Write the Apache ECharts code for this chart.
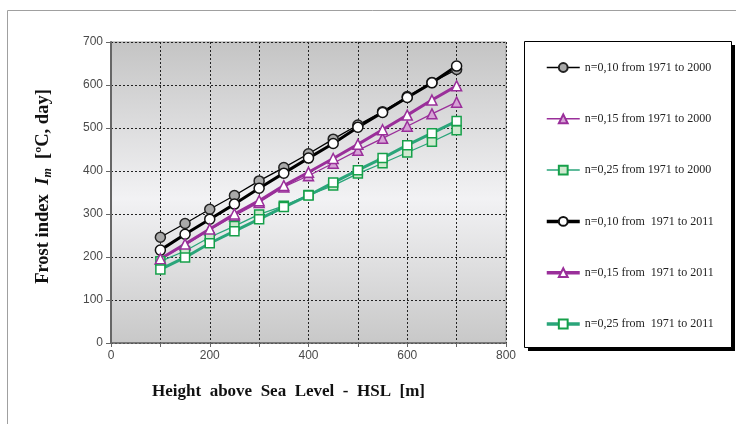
<!DOCTYPE html>
<html>
<head>
<meta charset="utf-8">
<script src="https://cdn.jsdelivr.net/npm/echarts@6/dist/echarts.min.js"></script>
<style>
html,body{margin:0;padding:0;background:#fff;}
#c{width:736px;height:424px;}
</style>
</head>
<body>
<div id="c"></div>
<script>
var heights = [100,150,200,250,300,350,400,450,500,550,600,650,700];
var n10_2000 = [246,278,311,343,377,408,440,474,507,538,573,606,636];
var n15_2000 = [195,228,263,296,327,363,389,418,448,476,504,533,560];
var n25_2000 = [190,214,246,272,299,319,344,366,394,418,443,468,495];
var n10_2011 = [216,253,288,323,360,395,430,464,502,536,571,605,644];
var n15_2011 = [196,230,265,300,331,366,397,429,462,496,530,565,598];
var n25_2011 = [171,199,232,260,288,316,343,373,402,430,460,488,516];
var seriesNames = [
  'n=0,10 from 1971 to 2000',
  'n=0,15 from 1971 to 2000',
  'n=0,25 from 1971 to 2000',
  'n=0,10 from  1971 to 2011',
  'n=0,15 from  1971 to 2011',
  'n=0,25 from  1971 to 2011'
];
var xTicks = [0,200,400,600,800];
var yTicks = [0,100,200,300,400,500,600,700];

function pairs(vals){ return heights.map(function(h,i){ return [h, vals[i]]; }); }

var BLACK = '#000000', MAG = '#9a2f9a', GRN = '#2aa57a', GRNB = '#16a04a';

function mk(name, vals, lineColor, width, symbol, size, fill, border){
  return {
    name: name, type: 'line', data: pairs(vals),
    symbol: symbol, symbolSize: size, showSymbol: true,
    lineStyle: {color: lineColor, width: width},
    itemStyle: {color: fill, borderColor: border, borderWidth: 1.5},
    emphasis: {disabled: true}
  };
}

var legendWidths = [1.5, 1.5, 1.5, 3.5, 3.5, 3.5];

var chart = echarts.init(document.getElementById('c'), null, {renderer: 'canvas'});
chart.setOption({
  animation: false,
  graphic: [
    {type: 'rect', shape: {x: 7.5, y: 10.5, width: 800, height: 500},
     style: {fill: 'none', stroke: '#a0a0a0', lineWidth: 1}, z: -10},
    {type: 'rect', shape: {x: 528, y: 45, width: 207, height: 306},
     style: {fill: '#000', stroke: 'none'}, z: 0},
    {type: 'rect', shape: {x: 524.5, y: 41.5, width: 207, height: 306},
     style: {fill: '#ffffff', stroke: '#000', lineWidth: 1}, z: 1}
  ],
  legend: {
    orient: 'vertical', left: 540, top: 56.5, itemWidth: 33, itemHeight: 11, itemGap: 39.3,
    textStyle: {fontFamily: 'Liberation Serif', fontSize: 12, color: '#222'},
    data: seriesNames.map(function(n, i){ return {name: n, lineStyle: {width: legendWidths[i]}}; }),
    z: 5, selectedMode: false
  },
  grid: {
    left: 111, right: 230, top: 42, bottom: 81, show: true,
    borderColor: '#9a9a9a', borderWidth: 1,
    backgroundColor: new echarts.graphic.LinearGradient(0,0,0,1,[
      {offset: 0, color: '#c4c4c4'},
      {offset: 0.52, color: '#f2f2f4'},
      {offset: 1, color: '#c8c8c8'}
    ])
  },
  xAxis: {
    type: 'value', min: 0, max: 800, interval: 100,
    name: 'Height  above  Sea  Level  -  HSL  [m]', nameLocation: 'middle', nameGap: 40,
    nameTextStyle: {fontFamily: 'Liberation Serif', fontWeight: 'bold', fontSize: 17, color: '#111', padding: [0, 40, 0, 0]},
    axisLine: {lineStyle: {color: '#666', width: 1.5}},
    axisTick: {show: true, length: 4, lineStyle: {color: '#666'}},
    axisLabel: {fontFamily: 'Liberation Sans', fontSize: 12, color: '#4a4a4a', margin: 7,
      formatter: function(v){ return xTicks.indexOf(v) >= 0 ? String(v) : ''; }},
    splitLine: {show: true, lineStyle: {color: '#222', type: [2,2], width: 1}}
  },
  yAxis: {
    type: 'value', min: 0, max: 700, interval: 100,
    name: '{b|Frost index  }{i|I}{s|m}{b|  [ºC, day]}', nameLocation: 'middle', nameGap: 57, nameRotate: 90,
    nameTextStyle: {
      padding: [0, 0, 0, 12],
      rich: {
        b: {fontFamily: 'Liberation Serif', fontWeight: 'bold', fontSize: 18.5, color: '#111', lineHeight: 22},
        i: {fontFamily: 'Liberation Serif', fontWeight: 'bold', fontStyle: 'italic', fontSize: 19, color: '#111', lineHeight: 22},
        s: {fontFamily: 'Liberation Serif', fontWeight: 'bold', fontStyle: 'italic', fontSize: 12, color: '#111', lineHeight: 22, verticalAlign: 'bottom'}
      }
    },
    axisLine: {show: true, lineStyle: {color: '#666', width: 2}},
    axisTick: {show: true, length: 5, lineStyle: {color: '#666'}},
    axisLabel: {fontFamily: 'Liberation Sans', fontSize: 12, color: '#4a4a4a', margin: 8,
      formatter: function(v){ return yTicks.indexOf(v) >= 0 ? String(v) : ''; }},
    splitLine: {show: true, lineStyle: {color: '#222', type: [2,2], width: 1}}
  },
  series: [
    mk(seriesNames[0], n10_2000, BLACK, 1.3, 'circle', 10, '#a9a9a9', '#222'),
    mk(seriesNames[1], n15_2000, MAG, 1.3, 'triangle', 10, '#d6a3d6', MAG),
    mk(seriesNames[2], n25_2000, GRN, 1.3, 'rect', 9, '#cfe9cf', GRNB),
    mk(seriesNames[3], n10_2011, BLACK, 3, 'circle', 10, '#ffffff', '#111'),
    mk(seriesNames[4], n15_2011, MAG, 3, 'triangle', 10, '#ffffff', MAG),
    mk(seriesNames[5], n25_2011, GRN, 3, 'rect', 9, '#ffffff', GRNB)
  ]
});
</script>
</body>
</html>
